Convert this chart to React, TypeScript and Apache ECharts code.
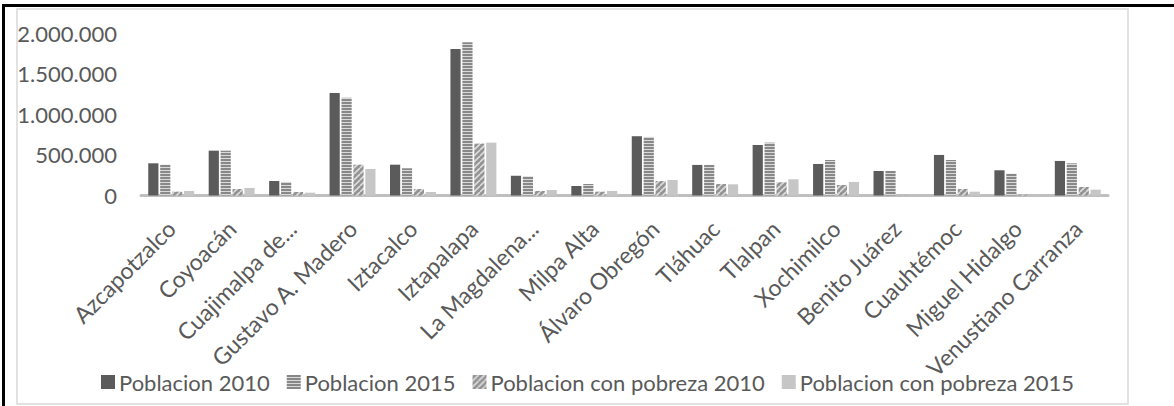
import React, { useEffect, useRef } from "react";
import * as echarts from "echarts";

const categories = [
  "Azcapotzalco",
  "Coyoacán",
  "Cuajimalpa de...",
  "Gustavo A. Madero",
  "Iztacalco",
  "Iztapalapa",
  "La Magdalena...",
  "Milpa Alta",
  "Álvaro Obregón",
  "Tláhuac",
  "Tlalpan",
  "Xochimilco",
  "Benito Juárez",
  "Cuauhtémoc",
  "Miguel Hidalgo",
  "Venustiano Carranza",
];

const poblacion2010 = [397000, 553000, 179000, 1265000, 380000, 1805000, 245000, 117000, 731000, 377000, 623000, 389000, 302000, 500000, 311000, 426000];
const poblacion2015 = [380000, 553000, 167000, 1204000, 336000, 1891000, 237000, 142000, 722000, 377000, 652000, 438000, 302000, 438000, 269000, 397000];
const pobreza2010 = [47000, 80000, 43000, 380000, 80000, 640000, 56000, 47000, 179000, 142000, 163000, 130000, 2000, 80000, 8000, 105000];
const pobreza2015 = [56000, 93000, 35000, 327000, 43000, 652000, 68000, 56000, 191000, 138000, 200000, 167000, 2000, 47000, 8000, 72000];

const seriesNames = [
  "Poblacion 2010",
  "Poblacion 2015",
  "Poblacion con pobreza 2010",
  "Poblacion con pobreza 2015",
];

const yTicks = [0, 500000, 1000000, 1500000, 2000000];

const FONT = "Lato, 'Open Sans', sans-serif";
const TEXT_COLOR = "#595959";

function fmt(v: number): string {
  return String(Math.round(v)).replace(/\B(?=(\d{3})+(?!\d))/g, ".");
}

function stripePattern() {
  const c = document.createElement("canvas");
  c.width = 4;
  c.height = 3;
  const ctx = c.getContext("2d")!;
  ctx.fillStyle = "#888888";
  ctx.fillRect(0, 0, 4, 2);
  ctx.fillStyle = "#d9d9d9";
  ctx.fillRect(0, 2, 4, 1);
  return { image: c.toDataURL(), repeat: "repeat", imageWidth: 4, imageHeight: 3 };
}

function diagPattern() {
  const s = 6;
  const c = document.createElement("canvas");
  c.width = s;
  c.height = s;
  const ctx = c.getContext("2d")!;
  ctx.fillStyle = "#939393";
  ctx.fillRect(0, 0, s, s);
  ctx.strokeStyle = "#dcdcdc";
  ctx.lineWidth = 1.6;
  ctx.beginPath();
  for (let k = -2 * s; k <= 2 * s; k += s) {
    ctx.moveTo(k, s);
    ctx.lineTo(k + s, 0);
  }
  ctx.stroke();
  return { image: c.toDataURL(), repeat: "repeat", imageWidth: s, imageHeight: s };
}

export default function App() {
  const ref = useRef<HTMLDivElement>(null);

  useEffect(() => {
    if (!ref.current) return;
    const chart = echarts.init(ref.current, null, { renderer: "svg" });
    const colors: any[] = ["#5b5b5b", stripePattern(), diagPattern(), "#c6c6c6"];
    const data = [poblacion2010, poblacion2015, pobreza2010, pobreza2015];

    chart.setOption({
      animation: false,
      backgroundColor: "#ffffff",
      grid: { left: 141, right: 66, top: 33.3, bottom: 210.5, containLabel: false },
      legend: {
        left: 96,
        top: 366,
        icon: "rect",
        itemWidth: 14,
        itemHeight: 14,
        itemGap: 17,
        textStyle: { fontFamily: FONT, fontSize: 22, color: TEXT_COLOR, padding: [0, 0, 0, -1] },
        data: seriesNames,
      },
      xAxis: {
        type: "category",
        data: categories,
        offset: 2,
        axisLine: { show: true, lineStyle: { color: "#bfbfbf", width: 3 } },
        axisTick: { show: false },
        axisLabel: {
          interval: 0,
          rotate: 45,
          margin: 27,
          fontFamily: FONT,
          fontSize: 23,
          color: TEXT_COLOR,
        },
      },
      yAxis: {
        type: "value",
        min: yTicks[0],
        max: yTicks[yTicks.length - 1],
        interval: yTicks[1] - yTicks[0],
        axisLine: { show: false },
        axisTick: { show: false },
        splitLine: { show: false },
        axisLabel: {
          margin: 24,
          fontFamily: FONT,
          fontSize: 22,
          color: TEXT_COLOR,
          formatter: (v: number) => fmt(v),
        },
      },
      series: seriesNames.map((name, i) => ({
        name,
        type: "bar",
        data: data[i],
        barCategoryGap: "24%",
        barGap: "17%",
        itemStyle: { color: colors[i] },
      })),
      graphic: [
        {
          type: "rect",
          shape: { x: 17, y: 9, width: 1111, height: 395 },
          style: { fill: "none", stroke: "#d9d9d9", lineWidth: 1.5 },
          silent: true,
        },
        {
          type: "rect",
          shape: { x: 2, y: 4, width: 1172, height: 3 },
          style: { fill: "#000000" },
          silent: true,
        },
        {
          type: "rect",
          shape: { x: 2, y: 4, width: 3, height: 402 },
          style: { fill: "#000000" },
          silent: true,
        },
      ],
    });

    return () => chart.dispose();
  }, []);

  return (
    <div
      ref={ref}
      style={{ position: "fixed", left: 0, top: 0, width: 1174, height: 406, background: "#fff" }}
    />
  );
}
